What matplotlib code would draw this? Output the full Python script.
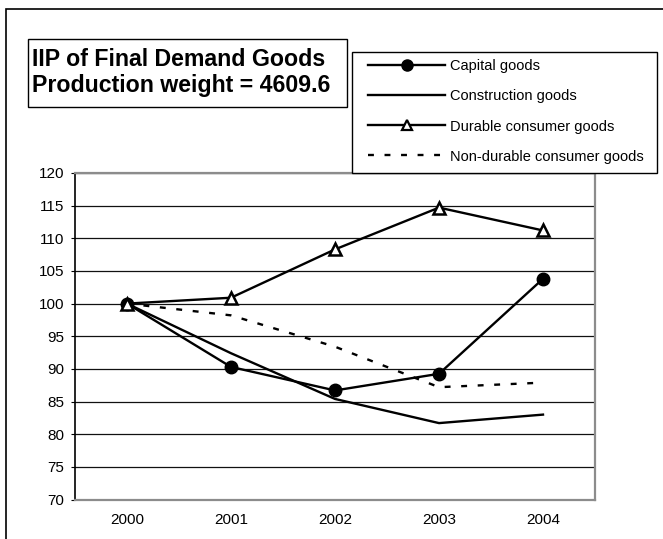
import matplotlib
matplotlib.use("Agg")
import matplotlib.pyplot as plt
from matplotlib.lines import Line2D
from matplotlib.patches import Rectangle

plt.rcParams['font.family'] = ['Liberation Sans', 'DejaVu Sans']

years = ["2000", "2001", "2002", "2003", "2004"]
capital = [100, 90.3, 86.7, 89.25, 103.8]
construction = [100, 92.4, 85.4, 81.7, 83.0]
durable = [100, 100.9, 108.3, 114.7, 111.2]
nondurable = [100, 98.2, 93.4, 87.2, 87.9]
yticks = list(range(70, 121, 5))
labels = ["Capital goods", "Construction goods", "Durable consumer goods", "Non-durable consumer goods"]

W, H = 663, 539
fig = plt.figure(figsize=(W / 100, H / 100), dpi=100)

def box(x0, y0, x1, y1):
    # rectangle given in pixels from top-left
    fig.patches.append(Rectangle((x0 / W, 1 - y1 / H), (x1 - x0) / W, (y1 - y0) / H,
                                 transform=fig.transFigure, facecolor="white",
                                 edgecolor="black", linewidth=1, zorder=5))

# outer chart frame (runs off right/bottom edge)
fig.patches.append(Rectangle((6 / W, -0.01), 1.0, 1 - 9 / H + 0.01, transform=fig.transFigure,
                             fill=False, edgecolor="black", linewidth=1.2))

ax = fig.add_axes([75 / W, 39.5 / H, 520 / W, 326.5 / H])
x = range(len(years))
lw = 1.7
dash = (0, (2.5, 4.5))
ax.plot(x, capital, color="black", lw=lw, marker="o", ms=9, mfc="black", zorder=4)
ax.plot(x, construction, color="black", lw=lw, zorder=3)
ax.plot(x, durable, color="black", lw=lw, marker="^", ms=8, mfc="white", mew=1.8, zorder=4)
ax.plot(x, nondurable, color="black", lw=lw, ls=dash, zorder=3)

ax.set_xlim(-0.5, 4.5)
ax.set_ylim(70, 120)
ax.set_yticks(yticks)
ax.set_xticks(list(x))
ax.set_xticklabels(years)
ax.grid(axis="y", color="#111111", lw=0.9)
ax.set_axisbelow(True)
for s in ["top", "right", "bottom"]:
    ax.spines[s].set_color("#8c8c8c")
    ax.spines[s].set_linewidth(1.6)
ax.spines["left"].set_color("black")
ax.spines["left"].set_linewidth(1.2)
ax.tick_params(axis="y", length=3, labelsize=11, pad=5)
ax.tick_params(axis="x", length=0, labelsize=11, pad=10)

# title box
box(28, 39, 347, 107)
fig.text(32 / W, 1 - 72.5 / H, "IIP of Final Demand Goods\nProduction weight = 4609.6",
         fontsize=16.7, fontweight="bold", ha="left", va="center", linespacing=1.2, zorder=6)

# legend box
box(352, 52, 657, 173)
handles = [
    Line2D([], [], color="black", lw=lw, marker="o", ms=8, mfc="black"),
    Line2D([], [], color="black", lw=lw),
    Line2D([], [], color="black", lw=lw, marker="^", ms=7, mfc="white", mew=1.6),
    Line2D([], [], color="black", lw=lw, ls=dash),
]
leg = fig.legend(handles, labels, loc="center left", bbox_to_anchor=(368 / W, 1 - 111.5 / H),
                 fontsize=10.5, frameon=False,
                 handlelength=5.3, handletextpad=0.35, labelspacing=1.1, borderpad=0,
                 borderaxespad=0)
leg.set_zorder(7)

fig.savefig("out.png", dpi=100)
